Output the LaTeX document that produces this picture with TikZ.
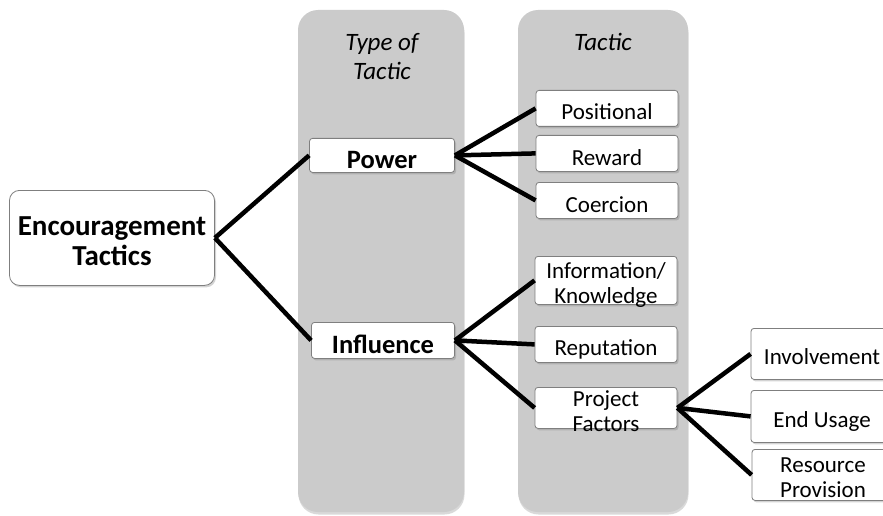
\documentclass[tikz,border=0pt]{standalone}
\usepackage{fontspec}
\setmainfont{Carlito}
\usetikzlibrary{shadows}
\definecolor{colgray}{HTML}{CBCBCB}
\definecolor{boxedge}{HTML}{7F7F7F}
\begin{document}
\begin{tikzpicture}[x=1pt, y=-1pt,
  column/.style={fill=colgray, rounded corners=20pt,
    drop shadow={shadow xshift=0.5pt, shadow yshift=-2.5pt, opacity=0.3}},
  box/.style={draw=boxedge, fill=white, rounded corners=3pt, line width=0.8pt,
    drop shadow={shadow xshift=1.5pt, shadow yshift=-2pt, opacity=0.35},
    align=center, inner xsep=1pt, inner ysep=1pt, anchor=north,
    font=\fontsize{23}{25}\selectfont, minimum width=142pt},
  mainbox/.style={box, font=\fontsize{26.5}{28}\selectfont\bfseries},
  bigbox/.style={box, rounded corners=10pt, font=\fontsize{29}{30}\selectfont\bfseries},
  title/.style={align=center, anchor=base, font=\fontsize{25}{29}\selectfont\itshape},
  link/.style={line width=4.5pt}]
\useasboundingbox (0,0) rectangle (883,516);
% columns
\path[column] (298,10) rectangle (464,512);
\path[column] (518,10) rectangle (688,512);
\node[title] (ttype) at (382,80) {Type of\\Tactic};
\node[title] (ttac) at (603,51) {Tactic};
% nodes (text height / depth put the baseline where the reference has it)
\node[bigbox, minimum width=205pt, text height=74pt, text depth=19pt] (enc) at (112,190) {Encouragement\\Tactics};
\node[mainbox, minimum width=145pt, text height=29pt, text depth=3pt] (power) at (382,138) {Power};
\node[mainbox, minimum width=143pt, text height=30pt, text depth=4pt] (infl) at (383,322) {Influence};
\node[box, text height=28pt, text depth=6pt] (pos) at (607,90) {Positional};
\node[box, text height=29pt, text depth=5pt] (rew) at (607,135) {Reward};
\node[box, text height=29pt, text depth=5pt] (coe) at (607,182) {Coercion};
\node[box, text height=46pt, text depth=0pt] (info) at (606,256) {Information/\\Knowledge};
\node[box, text height=28pt, text depth=6pt] (rep) at (606,326) {Reputation};
\node[box, text height=39pt, text depth=0pt] (proj) at (606,387) {\raisebox{-4pt}{Project}\\\raisebox{-4pt}{Factors}};
\node[box, text height=35pt, text depth=14pt] (inv) at (822,328) {Involvement};
\node[box, text height=36pt, text depth=14pt] (endu) at (822,390) {End Usage};
\node[box, text height=47pt, text depth=2pt] (res) at (823,449) {Resource\\Provision};
% links
\draw[link] (enc.east) -- (power.west);
\draw[link] (enc.east) -- (infl.west);
\draw[link] (power.east) -- (pos.west);
\draw[link] (power.east) -- (rew.west);
\draw[link] (power.east) -- (coe.west);
\draw[link] (infl.east) -- (info.west);
\draw[link] (infl.east) -- (rep.west);
\draw[link] (infl.east) -- (proj.west);
\draw[link] (proj.east) -- (inv.west);
\draw[link] (proj.east) -- (endu.west);
\draw[link] (proj.east) -- (res.west);
\end{tikzpicture}
\end{document}
